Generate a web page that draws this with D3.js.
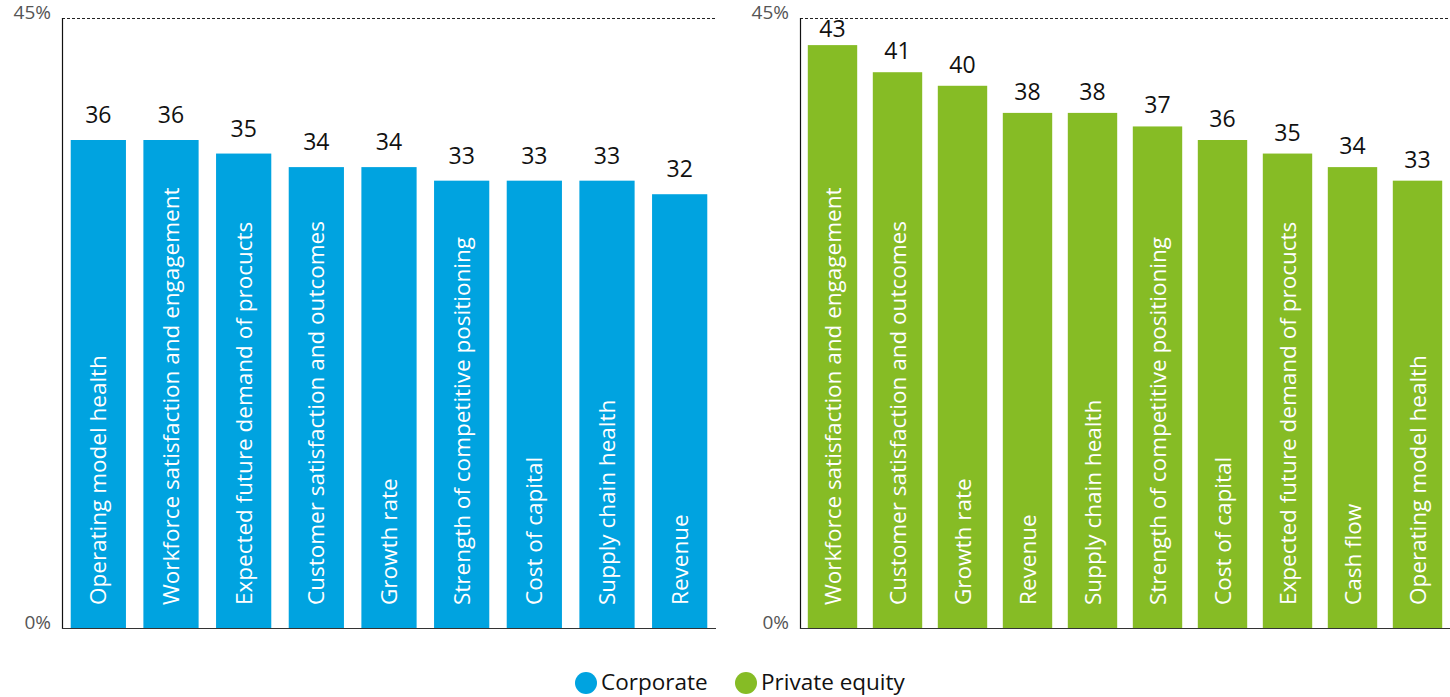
<!DOCTYPE html>
<html>
<head>
<meta charset="utf-8">
<script src="https://cdn.jsdelivr.net/npm/d3@7"></script>
<style>
  body { margin: 0; background: #fff; }
  svg { display: block; font-family: "Open Sans", "Noto Sans", sans-serif; }
</style>
</head>
<body>
<svg id="chart" width="1450" height="697"></svg>
<script>
// Corporate respondents
const corpCategories = [
  "Operating model health",
  "Workforce satisfaction and engagement",
  "Expected future demand of procucts",
  "Customer satisfaction and outcomes",
  "Growth rate",
  "Strength of competitive positioning",
  "Cost of capital",
  "Supply chain health",
  "Revenue"
];
const corpValues = [36, 36, 35, 34, 34, 33, 33, 33, 32];

// Private equity respondents
const peCategories = [
  "Workforce satisfaction and engagement",
  "Customer satisfaction and outcomes",
  "Growth rate",
  "Revenue",
  "Supply chain health",
  "Strength of competitive positioning",
  "Cost of capital",
  "Expected future demand of procucts",
  "Cash flow",
  "Operating model health"
];
const peValues = [43, 41, 40, 38, 38, 37, 36, 35, 34, 33];

const yTicks = [0, 45];
const legendLabels = ["Corporate", "Private equity"];
const colors = ["#00A3E0", "#86BC25"];

const svg = d3.select("#chart");

function panel(cats, vals, color, x0, x1, labelGap) {
  const top = 18, bottom = 628;
  const y = d3.scaleLinear().domain([0, 45]).range([bottom, top]);
  const x = d3.scaleBand().domain(cats).range([x0, x1])
    .paddingInner(0.24).paddingOuter(0.12);
  const g = svg.append("g");

  // top dashed reference line at the max tick
  g.append("line")
    .attr("x1", x0).attr("x2", x1)
    .attr("y1", y(45) + 0.5).attr("y2", y(45) + 0.5)
    .attr("stroke", "#222").attr("stroke-width", 1)
    .attr("stroke-dasharray", "3,2");

  // tick labels
  g.selectAll("text.tick").data(yTicks).join("text")
    .attr("class", "tick")
    .attr("x", x0 - 11)
    .attr("y", d => y(d) + 1)
    .attr("text-anchor", "end")
    .attr("font-size", 19)
    .attr("fill", "#555")
    .text(d => d + "%");

  // bars
  g.selectAll("rect").data(vals).join("rect")
    .attr("x", (d, i) => x(cats[i]))
    .attr("width", x.bandwidth())
    .attr("y", d => y(d))
    .attr("height", d => bottom - y(d))
    .attr("fill", color);

  // value labels (kept below the dashed top line)
  g.selectAll("text.val").data(vals).join("text")
    .attr("class", "val")
    .attr("x", (d, i) => x(cats[i]) + x.bandwidth() / 2)
    .attr("y", d => Math.max(y(d) - labelGap, top + 19))
    .attr("text-anchor", "middle")
    .attr("font-size", 23)
    .attr("fill", "#111")
    .text(d => d);

  // category labels inside bars
  g.selectAll("text.cat").data(cats).join("text")
    .attr("class", "cat")
    .attr("transform", d => `translate(${x(d) + x.bandwidth() / 2 + 8},${bottom - 23}) rotate(-90)`)
    .attr("text-anchor", "start")
    .attr("font-size", 22.5)
    .attr("fill", "#fff")
    .text(d => d);

  // axes
  g.append("line")
    .attr("x1", x0 + 0.5).attr("x2", x0 + 0.5)
    .attr("y1", top).attr("y2", bottom + 1)
    .attr("stroke", "#111").attr("stroke-width", 1.2);
  g.append("line")
    .attr("x1", x0).attr("x2", x1)
    .attr("y1", bottom + 0.5).attr("y2", bottom + 0.5)
    .attr("stroke", "#333").attr("stroke-width", 1.2);
}

panel(corpCategories, corpValues, colors[0], 62, 716, 17);
panel(peCategories, peValues, colors[1], 800, 1450, 13);

// legend
const legend = svg.append("g");
const lx = [586, 746];
legendLabels.forEach((lab, i) => {
  legend.append("circle").attr("cx", lx[i]).attr("cy", 683).attr("r", 11).attr("fill", colors[i]);
  legend.append("text").attr("x", lx[i] + 15).attr("y", 690)
    .attr("font-size", 22.5).attr("fill", "#111").text(lab);
});
</script>
</body>
</html>
